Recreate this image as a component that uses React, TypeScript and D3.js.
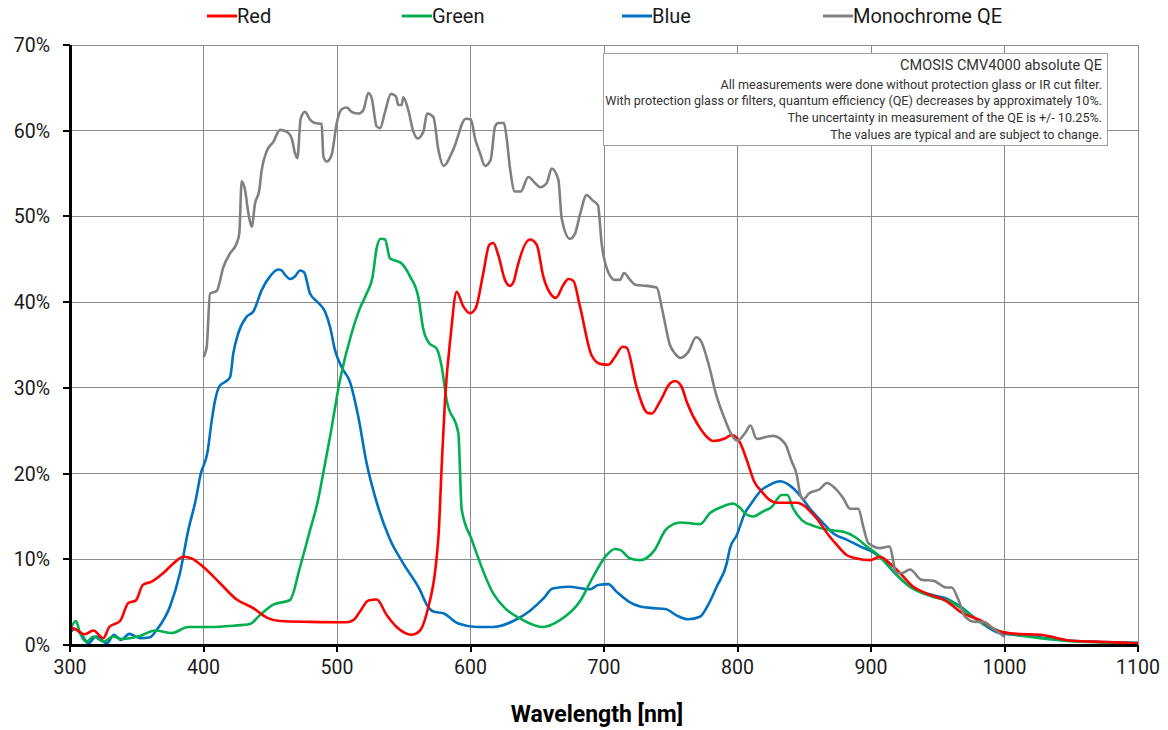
import * as d3 from "d3";

// wavelength [nm] / QE [%]
const redNm = [300, 305, 311, 317.5, 325, 329.4, 337.5, 343.7, 349.4, 354.5, 361.2, 369.9, 377.4, 384.9, 391.2, 399.9, 412.4, 424.9, 437.3, 447.3, 457.3, 479.8, 507.3, 512.2, 517.2, 523.5, 529.7, 537.2, 544.7, 555.9, 561.7, 567.2, 575.9, 578.4, 580.9, 585.1, 589.6, 594.6, 599.6, 603.9, 609.6, 614.1, 617.1, 620.8, 625.8, 629.6, 632.8, 634.6, 644.6, 649.6, 654.5, 660.8, 664, 669.5, 673.3, 677, 682, 690.7, 697, 703.2, 708.2, 713.9, 716.9, 724.4, 732.4, 735.7, 741.9, 749.4, 753.2, 758.2, 761.9, 771.9, 776.9, 781.9, 790.6, 795.6, 801.9, 806.9, 812.4, 818.1, 824.3, 829.3, 844.3, 858, 869.3, 874.3, 881.7, 889.3, 899.3, 906.7, 914.2, 921.7, 931.7, 941.7, 956.7, 966.7, 984.1, 994.1, 1009.1, 1026.6, 1050, 1075, 1100];
const redQe = [2.1, 1.75, 1.25, 1.7, 0.8, 2.1, 2.8, 4.9, 5.2, 7.0, 7.4, 8.4, 9.5, 10.3, 10.1, 9.1, 7.2, 5.3, 4.3, 3.2, 2.8, 2.7, 2.65, 2.9, 3.9, 5.2, 5.3, 3.5, 2.1, 1.2, 1.6, 3.7, 12.4, 20.8, 28.6, 36.0, 41.2, 39.5, 38.7, 39.3, 43.4, 46.7, 46.9, 45.5, 42.6, 41.9, 42.6, 43.8, 47.3, 46.7, 43.0, 40.8, 40.5, 42.0, 42.7, 42.5, 39.5, 33.8, 32.8, 32.7, 33.6, 34.8, 34.7, 30.1, 27.1, 27.0, 28.4, 30.5, 30.8, 30.1, 28.4, 25.3, 24.3, 23.8, 24.1, 24.5, 23.6, 21.6, 19.1, 17.9, 16.9, 16.6, 16.6, 15.0, 12.6, 11.7, 10.5, 10.1, 9.9, 10.3, 9.5, 8.4, 6.8, 6.0, 5.1, 3.9, 2.7, 1.7, 1.3, 1.2, 0.5, 0.35, 0.2];

const greenNm = [300, 304.5, 307.5, 312.5, 317.5, 325, 332.4, 338.7, 352.4, 363.7, 376.2, 388.6, 404.9, 422.3, 434.8, 442.3, 452.3, 464.8, 472.3, 479.8, 485.8, 488.8, 494.8, 502.2, 511, 517.2, 522.2, 526.7, 529.7, 532.7, 536, 539.7, 544.7, 548.4, 554.7, 560.9, 564.7, 569.1, 574.6, 578.4, 582.1, 590.9, 593.4, 600.9, 617.1, 625.8, 637.1, 654, 667, 682, 692, 702, 708.2, 712, 719.5, 727, 738, 746, 752, 757, 772, 779.4, 788.1, 796.8, 801.9, 806.9, 811.8, 819.3, 825.6, 833, 837.3, 841.8, 848, 856.8, 869.3, 879.3, 888, 896.8, 906.7, 914.2, 929.2, 946.7, 959.2, 969.2, 984.1, 996.6, 1011.6, 1026.6, 1050, 1075, 1100];
const greenQe = [1.75, 2.8, 1.4, 0.4, 1.0, 0.4, 1.0, 0.7, 1.05, 1.7, 1.4, 2.1, 2.1, 2.25, 2.45, 3.5, 4.7, 5.25, 9.1, 13.4, 16.9, 19.3, 24.3, 30.9, 36.4, 39.3, 41.0, 43.0, 46.3, 47.4, 47.3, 45.1, 44.8, 44.5, 43.0, 40.6, 36.8, 35.2, 34.6, 32.5, 28.6, 24.7, 15.8, 12.3, 6.0, 4.3, 3.1, 2.1, 2.9, 5.1, 8.0, 10.5, 11.2, 11.1, 10.1, 9.9, 11.1, 13.4, 14.1, 14.3, 14.1, 15.4, 16.1, 16.5, 16.0, 15.2, 15.0, 15.6, 16.1, 17.5, 17.5, 15.9, 14.6, 13.9, 13.4, 13.2, 12.6, 11.5, 10.3, 9.0, 6.8, 5.6, 5.1, 4.1, 2.5, 1.6, 1.1, 0.8, 0.45, 0.3, 0.2];

const blueNm = [300, 303.7, 308.7, 313.7, 319.5, 327.5, 333, 338.2, 344.4, 352.4, 359.9, 364.9, 374.9, 382.4, 388.6, 394, 398, 403, 406, 408.5, 412, 418, 420, 422.3, 426.1, 432.3, 437.3, 443.6, 449.8, 456, 458.5, 461, 464.8, 468.5, 472.3, 475.3, 479.8, 484.8, 491, 494.8, 498.5, 503.5, 509.7, 516, 522.2, 528.5, 539.7, 549.7, 562.2, 567.2, 572.2, 579.6, 590.9, 604.6, 617.1, 632.1, 644.6, 654.5, 661.5, 673.3, 689.5, 695.7, 703.2, 709.5, 718.2, 727, 737, 746, 755, 763, 771.9, 778.1, 784.4, 791.9, 794.4, 799.4, 805.6, 809.4, 818.1, 824.3, 831.8, 839.3, 845.5, 854.3, 864.3, 871.8, 881.7, 891.8, 901.8, 909.2, 916.7, 929.2, 946.7, 956.7, 966.7, 981.6, 996.6, 1021.6, 1050, 1075, 1100];
const blueQe = [1.4, 1.9, 1.2, 0.2, 1.0, 0.2, 1.2, 0.6, 1.3, 0.8, 0.9, 1.75, 4.5, 8.4, 13.4, 16.8, 20.0, 22.5, 26.0, 28.4, 30.2, 30.9, 31.3, 34.0, 36.4, 38.3, 38.9, 41.4, 43.0, 43.8, 43.7, 43.2, 42.7, 43.0, 43.7, 43.5, 41.0, 40.1, 38.9, 37.1, 34.4, 32.4, 30.7, 26.6, 21.2, 17.3, 12.3, 9.5, 6.4, 4.7, 3.9, 3.7, 2.5, 2.1, 2.1, 2.8, 4.0, 5.4, 6.6, 6.8, 6.5, 7.0, 7.1, 6.2, 5.1, 4.5, 4.3, 4.2, 3.4, 3.0, 3.3, 4.7, 6.8, 9.5, 11.3, 12.8, 15.4, 16.3, 18.1, 18.7, 19.1, 18.6, 17.7, 15.9, 14.2, 13.0, 12.3, 11.5, 10.8, 9.9, 8.6, 6.8, 5.8, 5.4, 4.5, 2.7, 1.4, 1.0, 0.5, 0.35, 0.25];

const monoNm = [400, 402.4, 404.9, 409.9, 414.9, 419.9, 424.9, 426.8, 428.6, 431.1, 433.6, 436.1, 438.6, 441.8, 443.6, 447.3, 452.3, 457.3, 462.3, 466.1, 468.5, 470.3, 472.8, 476, 479.8, 483.5, 488.5, 489.8, 492.3, 496, 499.8, 503.5, 507.3, 511, 516, 519.7, 523.5, 526, 529.7, 532.2, 536, 540.4, 544.2, 545.9, 548.4, 549.7, 553.4, 557.2, 560.5, 564.7, 567.5, 572.2, 575.9, 579.8, 587.1, 596.5, 600.3, 603.4, 607.1, 610.9, 615.1, 618.4, 620.8, 625.1, 627.1, 629.6, 633.3, 637.6, 643.3, 648.3, 652.1, 657.1, 660.8, 665.8, 668.3, 674.5, 678.3, 682, 687, 691.2, 695.5, 698.2, 703.2, 708.2, 712, 715, 719.5, 724.2, 732, 739.5, 743.5, 749.4, 753.2, 757.2, 763.2, 769, 772.5, 778.1, 784.4, 790.6, 795.6, 799.8, 805.6, 809.7, 814.3, 826.5, 835.6, 840.6, 844.3, 846.8, 849.3, 853.7, 861.8, 866.9, 873, 879.3, 884.3, 890.5, 894.2, 898, 906.7, 913.7, 919.2, 922.9, 929.2, 938, 946.7, 956.6, 960.4, 965.4, 970.4, 977.9, 984.1, 991.6, 1000.4];
const monoQe = [33.6, 34.8, 41.0, 41.3, 44.1, 45.7, 46.9, 48.0, 54.1, 53.1, 50.4, 48.8, 51.5, 53.1, 55.4, 57.6, 58.7, 60.1, 59.9, 59.1, 57.4, 56.8, 61.4, 62.2, 61.3, 60.9, 60.8, 57.0, 56.4, 57.2, 60.9, 62.5, 62.7, 62.2, 62.0, 62.4, 64.4, 63.8, 60.5, 60.3, 62.2, 64.3, 64.0, 63.0, 63.0, 63.9, 62.4, 59.9, 59.1, 59.9, 62.0, 61.6, 57.8, 55.9, 57.8, 61.4, 61.3, 59.1, 57.4, 55.9, 56.6, 60.5, 60.9, 60.9, 59.1, 55.6, 52.9, 52.9, 54.6, 53.9, 53.4, 53.9, 55.6, 54.3, 49.8, 47.4, 48.0, 50.2, 52.5, 51.9, 51.3, 46.9, 43.5, 42.6, 42.6, 43.4, 42.6, 42.0, 41.9, 41.7, 39.2, 35.0, 34.0, 33.5, 34.2, 35.9, 35.5, 32.9, 29.0, 26.3, 24.5, 23.85, 24.7, 25.6, 24.05, 24.4, 23.5, 21.4, 19.9, 17.7, 17.0, 17.7, 18.2, 18.9, 18.3, 17.1, 15.9, 15.9, 13.8, 11.9, 11.3, 11.5, 8.4, 8.4, 8.8, 7.6, 7.5, 6.7, 6.7, 5.3, 3.3, 2.7, 2.7, 1.9, 0.9];

const xTicks = [300, 400, 500, 600, 700, 800, 900, 1000, 1100];
const yTicks = [0, 10, 20, 30, 40, 50, 60, 70];

const seriesNames = ["Red", "Green", "Blue", "Monochrome QE"];
const seriesColors = ["#ff0000", "#00b050", "#0070c0", "#808080"];

const noteLines = [
  "All measurements were done without protection glass or IR cut filter.",
  "With protection glass or filters, quantum efficiency (QE) decreases by approximately 10%.",
  "The uncertainty in measurement of the QE is +/- 10.25%.",
  "The values are typical and are subject to change.",
];

const W = 1168;
const H = 730;
const FONT = "Roboto, 'Noto Sans', sans-serif";

export default function App() {
  const x = d3.scaleLinear().domain([300, 1100]).range([70, 1138]);
  const y = d3.scaleLinear().domain([0, 70]).range([645, 45]);

  const line = d3
    .line<[number, number]>()
    .x((d) => x(d[0]))
    .y((d) => y(d[1]))
    .curve(d3.curveMonotoneX);

  const series = [
    d3.zip(redNm, redQe),
    d3.zip(greenNm, greenQe),
    d3.zip(blueNm, blueQe),
    d3.zip(monoNm, monoQe),
  ] as [number, number][][];

  const legendX = [207, 402, 622, 823];
  // draw order: blue, green, red, grey on top
  const order = [2, 1, 0, 3];

  return (
    <>
      <style>{`body{margin:0}`}</style>
      <svg width={W} height={H} style={{ display: "block", background: "#fff" }} fontFamily={FONT}>
        {/* grid */}
        <g stroke="#8a8a8a" strokeWidth={1} shapeRendering="crispEdges">
          {yTicks.slice(1).map((t) => (
            <line key={"gy" + t} x1={x(300)} x2={x(1100)} y1={y(t)} y2={y(t)} />
          ))}
          {xTicks.slice(1).map((t) => (
            <line key={"gx" + t} x1={x(t)} x2={x(t)} y1={y(0)} y2={y(70)} />
          ))}
        </g>

        {/* curves */}
        {order.map((i) => (
          <path
            key={seriesNames[i]}
            d={line(series[i]) || ""}
            fill="none"
            stroke={seriesColors[i]}
            strokeWidth={2.6}
            strokeLinejoin="round"
          />
        ))}

        {/* axes */}
        <g stroke="#000" shapeRendering="crispEdges">
          <line x1={x(300)} x2={x(300)} y1={y(70)} y2={y(0) + 1.5} strokeWidth={3} />
          <line x1={x(300) - 1.5} x2={x(1100)} y1={y(0)} y2={y(0)} strokeWidth={3} />
          {yTicks.map((t) => (
            <line key={"ty" + t} x1={x(300) - 7} x2={x(300)} y1={y(t)} y2={y(t)} strokeWidth={2} />
          ))}
          {xTicks.map((t) => (
            <line key={"tx" + t} x1={x(t)} x2={x(t)} y1={y(0)} y2={y(0) + 7} strokeWidth={2} />
          ))}
        </g>

        {/* tick labels */}
        <g fontSize={19.5} fill="#1a1a1a">
          {yTicks.map((t) => (
            <text key={"ly" + t} x={50} y={y(t) + 7} textAnchor="end">
              {t}%
            </text>
          ))}
          {xTicks.map((t) => (
            <text key={"lx" + t} x={x(t)} y={y(0) + 29} textAnchor="middle">
              {t}
            </text>
          ))}
        </g>

        <text x={597} y={722} textAnchor="middle" fontSize={23} fontWeight="bold" fill="#000">
          Wavelength [nm]
        </text>

        {/* legend */}
        {seriesNames.map((name, i) => (
          <g key={"lg" + name}>
            <line x1={legendX[i]} x2={legendX[i] + 30} y1={16} y2={16} stroke={seriesColors[i]} strokeWidth={3} />
            <text x={legendX[i] + 30} y={23} fontSize={20} fill="#1a1a1a">
              {name}
            </text>
          </g>
        ))}

        {/* note box */}
        <rect x={603} y={53} width={504} height={92} fill="#fff" stroke="#a0a0a0" strokeWidth={1} shapeRendering="crispEdges" />
        <text x={1102} y={70} textAnchor="end" fontSize={14.5} fill="#333">
          CMOSIS CMV4000 absolute QE
        </text>
        {noteLines.map((s, i) => (
          <text key={"n" + i} x={1102} y={88.5 + i * 16.8} textAnchor="end" fontSize={12.6} fill="#333">
            {s}
          </text>
        ))}
      </svg>
    </>
  );
}
